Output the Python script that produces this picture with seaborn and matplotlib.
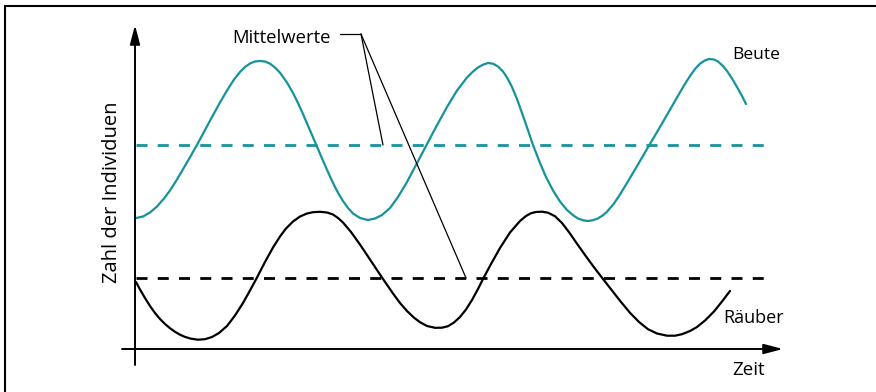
import matplotlib
matplotlib.use("Agg")
import matplotlib.pyplot as plt
import seaborn as sns
import pandas as pd
from matplotlib.lines import Line2D

zeit_beute = [1, 8, 15, 22, 29, 35, 42, 49, 56, 63, 70, 77, 85, 92, 99, 105, 110, 115, 120, 125,
              130, 135, 140, 145, 152, 158, 162, 168, 174, 180, 186, 191, 195, 200, 204, 208,
              213, 218, 225, 233, 240, 247, 255, 263, 272, 281, 291, 301, 312, 322, 332, 338,
              343, 348, 353, 358, 363, 368, 372, 377, 382, 390, 398, 405, 411, 418, 425, 432,
              438, 443, 448, 453, 458, 463, 468, 472, 479, 485, 492, 499, 505, 512, 520, 527,
              535, 542, 549, 555, 560, 565, 570, 574, 579, 583, 588, 592, 597, 602, 607, 611]
beute = [131, 132.5, 136.5, 142.5, 150.5, 158.5, 169.5, 181.5, 193.5, 206, 219, 232, 246.5, 258.5,
         269.5, 277, 282, 285.5, 287.5, 288,
         287.5, 285.3, 281.5, 276.3, 266.5, 256, 248, 235, 221, 207, 193, 181.5, 172.5, 162, 154.5, 148,
         141, 135.5, 131, 129, 130.5, 134, 141, 152, 167, 184, 203, 222, 242, 258.5, 271.5, 277.5,
         281.5, 284.3, 286, 285.3, 282.5, 277.5, 271.5, 262, 250, 227.5, 204, 186, 172, 158.5, 147.5, 139,
         133.8, 130.5, 128.7, 128, 128.8, 130.6, 133.8, 137.2, 145.5, 154.5, 166, 177.8, 188, 200,
         213.5, 225.5,
         239.3, 251.5, 263.5, 273, 280, 285.3, 288.6, 290, 289.5, 287.5, 283, 278, 270.5, 262, 253, 245]

zeit_raeuber = [1, 5, 10, 15, 20, 25, 30, 35, 40, 45, 50, 56, 63, 70, 77, 84, 92, 100, 108, 115,
                122, 130, 138, 145, 151, 158, 165, 172, 178, 185, 192, 198, 203, 208, 216, 225,
                236, 247, 258, 265, 272, 279, 285, 292, 300, 307, 313, 319, 325, 331, 337, 343,
                348, 356, 365, 375, 385, 391, 396, 401, 407, 413, 420, 427, 435, 442, 450, 459,
                468, 477, 486, 495, 504, 513, 522, 532, 540, 547, 555, 562, 570, 579, 587, 595]
raeuber = [67, 59.5, 51, 43, 36, 30, 25, 20.8, 17.2, 14.3, 12.1, 10.3, 9.3, 9.8, 12, 16, 23, 33.5,
           46, 58.5,
           71.5, 87, 101.5, 112.5, 120.5, 127.5, 132.5, 135.5, 136.8, 137.2, 136.5, 134.5, 131, 126.5,
           117, 104.5,
           88, 71.5, 55.5, 46, 38, 31.3, 26.8, 23, 21.2, 21.3, 22.8, 26.5, 32, 39.5, 49, 60,
           70, 85, 101, 116.5, 128, 133, 135.8, 137, 137.3, 136.3, 132.8, 126, 115.5, 105.3, 94, 81.7,
           70, 58.5, 47, 36.2, 27, 19.8, 15.5, 13.3, 13.3, 14.8, 18, 22, 28.5, 37.5, 47.5, 58]

mittel_beute = 204
mittel_raeuber = 71
zeit_mittel = [1, 631]

teal = "#16939a"

sns.set_style("white")
plt.rcParams["font.family"] = ["Open Sans", "DejaVu Sans"]
plt.rcParams["text.color"] = "black"

fig = plt.figure(figsize=(8.76, 3.92), dpi=100)
ax = fig.add_axes([0, 0, 1, 1])

df_b = pd.DataFrame({"zeit": zeit_beute, "n": beute})
df_r = pd.DataFrame({"zeit": zeit_raeuber, "n": raeuber})
sns.lineplot(data=df_b, x="zeit", y="n", ax=ax, color=teal, lw=1.6, sort=False)
sns.lineplot(data=df_r, x="zeit", y="n", ax=ax, color="black", lw=1.6, sort=False)

# Mittelwerte gestrichelt
dash = (0, (3.96, 3.69))
ax.plot(zeit_mittel, [mittel_beute] * 2, color=teal, lw=2, linestyle=dash)
ax.plot(zeit_mittel, [mittel_raeuber] * 2, color="black", lw=2, linestyle=dash)

ax.set_xlim(-135, 741)
ax.set_ylim(-43, 349)
ax.axis("off")

# Achsen mit Pfeilen
arrow = dict(arrowstyle="-|>,head_length=1.15,head_width=0.3", color="black",
             lw=1.4, mutation_scale=10, shrinkA=0, shrinkB=0)
ax.annotate("", xy=(0, 324), xytext=(0, -16), arrowprops=arrow)
ax.annotate("", xy=(648, 0), xytext=(-13, 0), arrowprops=arrow)

ax.text(-23, 157, "Zahl der Individuen", rotation=90, ha="center", va="center", fontsize=14.5)
ax.text(597, -21, "Zeit", ha="left", va="center", fontsize=13.5)
ax.text(597, 294, "Beute", ha="left", va="center", fontsize=12.5)
ax.text(588, 31, "Räuber", ha="left", va="center", fontsize=13)

# Beschriftung der Mittelwerte mit Hinweislinien
ax.text(196, 311, "Mittelwerte", ha="right", va="center", fontsize=13.3)
ax.plot([205, 226], [315, 315], color="black", lw=0.9)
ax.plot([226, 248], [315, mittel_beute], color="black", lw=0.9)
ax.plot([226, 331], [315, mittel_raeuber], color="black", lw=0.9)

# Rahmen oben und links
fig.add_artist(Line2D([5 / 876, 1], [1 - 6 / 392] * 2, color="black", lw=1.5))
fig.add_artist(Line2D([5 / 876] * 2, [0, 1 - 6 / 392], color="black", lw=1.5))

fig.savefig("out.png", dpi=100)
